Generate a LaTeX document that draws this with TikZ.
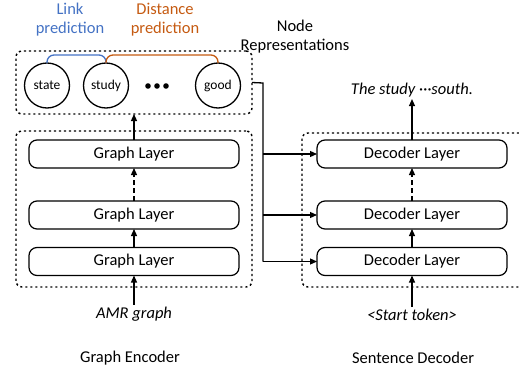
\documentclass[tikz,border=0pt]{standalone}
\usepackage{fontspec}
\setmainfont{Carlito}
\usetikzlibrary{arrows.meta,calc}
\definecolor{linkblue}{HTML}{4472C4}
\definecolor{distorange}{HTML}{C55A11}
\begin{document}
\begin{tikzpicture}[x=1pt,y=-1pt,
  every node/.style={inner sep=0pt, outer sep=0pt},
  layer/.style={draw, line width=1.2pt, rounded corners=8pt, minimum width=210pt, minimum height=28pt, font=\fontsize{16.5}{19}\selectfont},
  tok/.style={draw, circle, line width=1.3pt, minimum size=45pt, font=\fontsize{13.5}{15}\selectfont},
  grp/.style={draw, line width=1.4pt, dash pattern=on 2.2pt off 2.8pt, rounded corners=6pt},
  arr/.style={line width=1.2pt, -{Triangle[length=7pt,width=6pt]}},
  lbl/.style={font=\fontsize{16.5}{19}\selectfont, align=center, inner sep=2pt},
  ilbl/.style={font=\fontsize{16.5}{19}\selectfont\itshape, inner sep=2pt},
]
\useasboundingbox (0,0) rectangle (519,372);
\clip (0,0) rectangle (519,372);

% group boxes
\node[grp, minimum width=236pt, minimum height=63pt] (nodebox) at (134,82.5) {};
\node[grp, minimum width=236pt, minimum height=156pt] (encbox) at (134,209) {};
\node[grp, minimum width=238pt, minimum height=154pt] (decbox) at (421,210) {};

% token circles
\node[tok] (state) at (47,85.5) {state};
\node[tok] (study) at (106,85.5) {study};
\node[tok] (good) at (218,85.5) {good};
\foreach \x in {148,157,166} \fill (\x,86) circle (2.8pt);

% prediction arcs
\draw[linkblue, line width=1.3pt, rounded corners=7pt] (state.north) -- ++(0,-8) -| (study.north);
\draw[distorange, line width=1.3pt, rounded corners=7pt] (study.north) -- ++(0,-8) -| (good.north);

% labels
\node[lbl, text=linkblue] (linklbl) at (70,19.5) {Link\\prediction};
\node[lbl, text=distorange] (distlbl) at (165,19.5) {Distance\\prediction};
\node[lbl] (noderep) at (295,36.5) {Node\\Representations};

% encoder layers
\node[layer] (g1) at (134,154) {Graph Layer};
\node[layer] (g2) at (134,215) {Graph Layer};
\node[layer] (g3) at (134,261.5) {Graph Layer};

% decoder layers
\node[layer, minimum width=190pt] (d1) at (412,154) {Decoder Layer};
\node[layer, minimum width=190pt] (d2) at (412,215) {Decoder Layer};
\node[layer, minimum width=190pt] (d3) at (412,261.5) {Decoder Layer};

% texts
\node[ilbl] (out) at (412,90) {The study ···south.};
\node[ilbl] (amr) at (134,314) {AMR graph};
\node[ilbl] (start) at (412,315) {<Start token>};
\node[lbl] (enc) at (130,358) {Graph Encoder};
\node[lbl] (dec) at (413,358) {Sentence Decoder};

% vertical arrows
\draw[arr] (g1.north) -- (nodebox.south);
\draw[arr, dash pattern=on 5pt off 3pt] (g2.north) -- (g1.south);
\draw[arr] (g3.north) -- (g2.south);
\draw[arr] (amr.north) -- (g3.south);
\draw[arr] (d1.north) -- (out.south);
\draw[arr, dash pattern=on 5pt off 3pt] (d2.north) -- (d1.south);
\draw[arr] (d3.north) -- (d2.south);
\draw[arr] (start.north) -- (d3.south);

% node representation bus
\coordinate (bus) at (263,83);
\draw[line width=1.3pt] (nodebox.east) -- (bus) -- (bus |- d3.west);
\draw[arr] (bus |- d1.west) -- (d1.west);
\draw[arr] (bus |- d2.west) -- (d2.west);
\draw[arr] (bus |- d3.west) -- (d3.west);
\end{tikzpicture}
\end{document}
